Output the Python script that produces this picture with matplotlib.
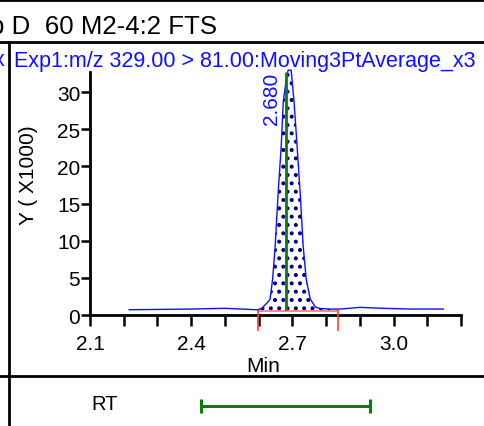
# %% HEADER
# MRM chromatogram panel: peak with RT marker and integration window

# %% IMPORTS
from matplotlib.lines import Line2D
import matplotlib.pyplot as plt
import numpy as np

# %% DATA
# Chromatogram trace (time in min, intensity in thousands)
times = [2.216, 2.30, 2.40, 2.50, 2.56, 2.598, 2.610, 2.625, 2.634, 2.6415,
         2.649, 2.658, 2.667, 2.673, 2.682, 2.6875, 2.6964, 2.705, 2.714,
         2.723, 2.732, 2.741, 2.753, 2.768, 2.782, 2.812, 2.842, 2.901,
         2.969, 3.05, 3.148]
intensities = [0.71, 0.75, 0.80, 0.90, 0.78, 0.70, 0.94, 1.62, 2.15, 4.85,
               9.29, 16.55, 22.75, 28.67, 31.76, 32.95, 32.95, 28.67, 22.75,
               16.55, 9.29, 4.85, 2.15, 1.08, 0.87, 0.80, 0.80, 1.03,
               0.90, 0.80, 0.80]

rt_apex = 2.68  # labelled retention time
rt_label = "2.680"
integ_start, integ_end = 2.598, 2.836  # integration limits
integ_level = 0.55  # integration baseline (x1000)
rt_window = 0.25  # expected RT window (+/- min)

x_ticks = [2.1, 2.2, 2.3, 2.4, 2.5, 2.6, 2.7, 2.8, 2.9, 3.0, 3.1, 3.2]
x_tick_labels = ["2.1", "", "", "2.4", "", "", "2.7", "", "", "3.0", "", ""]
y_ticks = [0, 5, 10, 15, 20, 25, 30]

title = "b D  60 M2-4:2 FTS"
trace_name = "Exp1:m/z 329.00 > 81.00:Moving3PtAverage_x3"

# %% STYLE
plt.rcParams["font.family"] = ["Liberation Sans", "DejaVu Sans"]
plt.rcParams["hatch.linewidth"] = 1.7
W, H = 484, 427
blue = "#1010ff"
green = "#0a7d0a"

fig = plt.figure(figsize=(W / 100, H / 100), dpi=100)


def fx(px):
    return px / W


def fy(py):
    return 1 - py / H


# Panel frame lines
for seg in [([0, 1], [fy(1), fy(1)]), ([0, 1], [fy(43), fy(43)]),
            ([0, 1], [fy(377), fy(377)]), ([fx(9), fx(9)], [fy(43), 0])]:
    fig.add_artist(Line2D(seg[0], seg[1], color="black", lw=2.0,
                          transform=fig.transFigure))

# Header texts (clipped at the left edge, as in the original printout)
fig.text(fx(217), fy(34), title, ha="right", va="baseline", fontsize=18.6)
fig.text(fx(14), fy(66.5), trace_name, ha="left", va="baseline",
         fontsize=15.5, color=blue)
fig.text(fx(5), fy(66.5), "x", ha="right", va="baseline", fontsize=15.5,
         color=blue)

# %% MAIN AXES
ax = fig.add_axes([fx(90), 1 - 316 / H, 371 / W, 243 / H])
t = np.array(times)
y = np.array(intensities)

mask = (t >= integ_start) & (t <= integ_end)
ax.fill_between(t[mask], integ_level, y[mask], facecolor="white",
                edgecolor="navy", hatch="..", linewidth=0, zorder=1,
                clip_on=False)
ax.plot(t, y, color=blue, lw=1.0, zorder=2, clip_on=False)

# Integration markers
ax.hlines(integ_level, integ_start, integ_end, color="#f08080", lw=1.3, zorder=3)
ax.vlines([integ_start, integ_end], -2.1, 0.65, color="#ff4040", lw=1.2,
          zorder=3, clip_on=False)

# Retention time marker
ax.vlines(rt_apex, 0.7, 32.7, color=green, lw=2.0, zorder=4)
ax.annotate(rt_label, xy=(rt_apex, 32.7), xytext=(-3, 0),
            textcoords="offset points", rotation=90, ha="right", va="top",
            fontsize=15, color=blue)

ax.set_xlim(2.1, 3.2)
ax.set_ylim(0, 32.7)
ax.set_xticks(x_ticks)
ax.set_xticklabels(x_tick_labels)
ax.set_yticks(y_ticks)
ax.tick_params(axis="x", direction="out", length=8, width=1.8, pad=6,
               labelsize=15)
ax.tick_params(axis="y", direction="out", length=6.5, width=1.8, pad=0.5,
               labelsize=15)
for side in ["top", "right"]:
    ax.spines[side].set_visible(False)
for side in ["left", "bottom"]:
    ax.spines[side].set_linewidth(2.0)
ax.patch.set_alpha(0)

fig.text(fx(263), fy(366.5), "Min", ha="center", va="center", fontsize=15)
fig.text(fx(28), fy(175), "Y ( X1000)", rotation=90, ha="center",
         va="center", fontsize=15)

# %% RT WINDOW PANEL
ax2 = fig.add_axes([fx(90), 0, 371 / W, 40 / H])
ax2.set_xlim(2.1, 3.2)
ax2.set_ylim(-1, 1)
ax2.errorbar(rt_apex, 0, xerr=rt_window, fmt="none", ecolor=green,
             elinewidth=2.2, capsize=4.7, capthick=2.2)
ax2.axis("off")
fig.text(fx(105), fy(405), "RT", ha="center", va="center", fontsize=14.5)

fig.savefig("out.png", dpi=100)
